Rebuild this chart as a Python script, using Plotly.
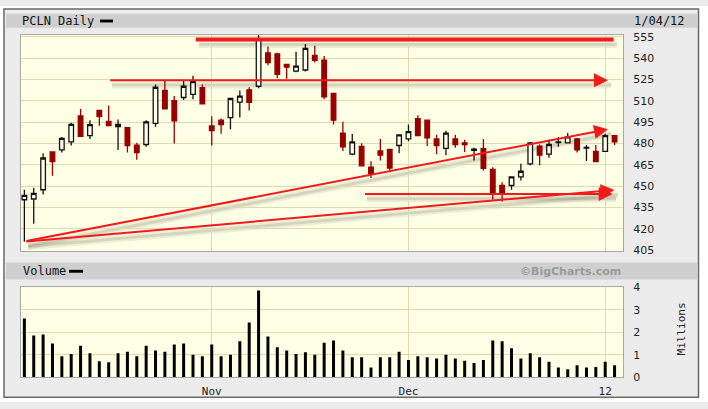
import numpy as np
import pandas as pd
import plotly.graph_objects as go

# ---------------- data ----------------
dates = pd.bdate_range("2011-10-04", "2012-01-04", freq="C",
                       holidays=["2011-11-24", "2011-12-26", "2012-01-02"]).strftime("%Y-%m-%d").tolist()

open_ = [440.5, 441.0, 447.5, 474.1, 475.5, 481.1, 499.3, 485.5, 503.2, 495.6,
         491.8, 491.1, 478.9, 479.3, 494.1, 517.3, 510.0, 512.3, 514.5, 519.2,
         492.3, 496.4, 498.2, 509.1, 517.7, 520.2, 543.6, 543.0, 535.5, 530.8,
         531.6, 541.8, 538.6, 515.2, 487.3, 472.5, 477.9, 463.3, 474.8, 475.9,
         478.6, 483.2, 497.5, 496.4, 483.2, 476.6, 483.2, 480.5, 475.2, 476.4,
         461.8, 450.5, 450.5, 456.6, 465.7, 478.2, 472.5, 480.6, 480.5, 483.2,
         476.8, 474.5, 474.5, 485.5]
high = [447.5, 449.0, 473.2, 474.5, 484.5, 494.5, 504.3, 496.4, 503.5, 506.7,
        496.8, 491.5, 480.5, 496.4, 521.4, 524.1, 513.4, 524.8, 527.5, 521.5,
        499.1, 497.5, 511.8, 517.3, 519.5, 557.0, 548.2, 543.8, 535.7, 544.5,
        549.8, 548.6, 541.4, 515.7, 495.2, 486.6, 480.1, 467.5, 483.2, 476.0,
        486.5, 493.4, 499.8, 496.6, 486.1, 488.9, 486.1, 482.7, 477.0, 483.2,
        463.4, 452.7, 456.8, 465.7, 481.0, 479.3, 482.7, 484.5, 487.3, 483.9,
        478.9, 478.9, 486.8, 485.6]
low = [411.0, 423.7, 444.1, 457.3, 473.6, 478.6, 484.5, 483.2, 492.5, 492.2,
       475.5, 473.6, 468.6, 477.7, 491.8, 504.0, 480.0, 510.5, 511.1, 507.5,
       478.6, 486.8, 490.0, 498.2, 503.2, 518.8, 535.0, 526.0, 525.5, 530.0,
       530.5, 536.8, 511.1, 493.4, 474.8, 471.8, 463.8, 455.7, 468.0, 460.5,
       473.2, 481.6, 485.0, 478.2, 472.5, 471.8, 477.0, 474.0, 468.0, 461.0,
       440.7, 439.3, 447.5, 454.0, 464.5, 464.5, 470.0, 477.7, 480.0, 473.6,
       467.7, 467.0, 474.0, 479.0]
close = [443.5, 445.0, 469.8, 467.3, 483.6, 493.4, 485.0, 493.2, 499.1, 492.5,
         493.4, 478.6, 473.6, 495.2, 519.5, 504.3, 495.9, 520.2, 523.4, 507.9,
         489.1, 493.2, 511.6, 513.2, 508.9, 553.5, 536.8, 528.6, 533.6, 534.4,
         546.8, 538.4, 512.7, 496.4, 477.7, 481.1, 464.3, 459.0, 471.8, 462.7,
         486.1, 488.4, 485.5, 483.9, 478.6, 487.3, 479.3, 479.3, 476.0, 462.5,
         445.2, 444.5, 456.6, 460.5, 480.5, 471.8, 479.3, 481.1, 484.7, 475.5,
         477.3, 467.3, 485.5, 481.1]
volume_millions = [2.61, 1.86, 1.90, 1.50, 0.93, 1.03, 1.40, 1.07, 0.71, 0.67,
                   1.07, 1.14, 0.93, 1.40, 1.19, 1.14, 1.46, 1.50, 1.00, 0.93,
                   1.46, 0.93, 1.00, 1.60, 2.43, 3.86, 1.81, 1.33, 1.19, 1.03,
                   1.11, 1.00, 1.54, 1.64, 1.19, 0.89, 0.89, 0.43, 0.89, 0.89,
                   1.14, 0.77, 0.93, 0.89, 0.83, 1.00, 0.83, 0.74, 0.64, 0.77,
                   1.64, 1.60, 1.29, 0.83, 1.07, 0.89, 0.69, 0.43, 0.36, 0.53,
                   0.43, 0.46, 0.69, 0.53]

price_ticks = [405, 420, 435, 450, 465, 480, 495, 510, 525, 540, 555]
volume_ticks = [0, 1, 2, 3, 4]
month_dates = ["2011-11-01", "2011-12-01", "2012-01-03"]
month_labels = ["Nov", "Dec", "12"]

# hand-drawn trend lines: (start index, start price, end index, end price)
top_line = (18.3, 553.0, 62.9, 553.0)
arrow_lines = [
    (9.0, 524.4, 62.3, 524.4),
    (0.05, 411.3, 62.3, 490.0),
    (0.05, 411.0, 63.0, 447.4),
    (36.2, 444.6, 62.8, 444.6),
]

# ---------------- figure ----------------
x = list(range(len(dates)))
tick_idx = [dates.index(d) for d in month_dates]

W, H = 708, 409
RED = "#f21a1a"
DARKRED = "#990000"
GRID = "#dcdcb0"
MONO = "DejaVu Sans Mono"
SANS = "DejaVu Sans"

fig = go.Figure()
fig.add_trace(go.Candlestick(
    x=x, open=open_, high=high, low=low, close=close,
    increasing=dict(line=dict(color="#111111", width=1.3), fillcolor="#ffffee"),
    decreasing=dict(line=dict(color=DARKRED, width=1.3), fillcolor=DARKRED),
    whiskerwidth=0, xaxis="x", yaxis="y", hoverinfo="skip"))
fig.add_trace(go.Bar(x=x, y=volume_millions, width=0.32, marker=dict(color="#000000", line=dict(width=0)),
                     xaxis="x2", yaxis="y2", hoverinfo="skip"))

XR = [-0.36, 63.9]
fig.update_layout(
    width=W, height=H, autosize=False, margin=dict(l=0, r=0, t=0, b=0),
    paper_bgcolor="#ececec", plot_bgcolor="#ffffe6", showlegend=False,
    xaxis=dict(domain=[21 / W, 623 / W], range=XR, tickvals=tick_idx, showticklabels=False,
               showgrid=True, gridcolor=GRID, gridwidth=1, zeroline=False, showline=True,
               linecolor="#a8a8a8", mirror=True, anchor="y", rangeslider=dict(visible=False), fixedrange=True),
    yaxis=dict(domain=[1 - 253 / H, 1 - 30 / H], range=[404.52, 556.16], side="right",
               tickvals=price_ticks, showgrid=True, gridcolor=GRID, zeroline=False, showline=True,
               linecolor="#a8a8a8", mirror=True, ticks="outside", ticklen=7, tickcolor="rgba(0,0,0,0)",
               tickfont=dict(family=SANS, size=11, color="#222222"), anchor="x"),
    xaxis2=dict(domain=[21 / W, 623 / W], range=XR, tickvals=tick_idx, ticktext=month_labels,
                showgrid=True, gridcolor=GRID, zeroline=False, showline=True, linecolor="#a8a8a8",
                mirror=True, ticks="outside", ticklen=3, tickcolor="rgba(0,0,0,0)",
                tickfont=dict(family=MONO, size=11, color="#222222"), anchor="y2"),
    yaxis2=dict(domain=[1 - 383.5 / H, 1 - 290 / H], range=[0, 4.02], side="right",
                tickvals=volume_ticks, showgrid=True, gridcolor=GRID, zeroline=False, showline=True,
                linecolor="#a8a8a8", mirror=True, ticks="outside", ticklen=7, tickcolor="rgba(0,0,0,0)",
                tickfont=dict(family=SANS, size=11, color="#222222"), anchor="x2"),
)

shapes = []
def prect(x0, y0, x1, y1, fill, line=None, lw=0, layer="below"):
    shapes.append(dict(type="rect", xref="paper", yref="paper", x0=x0 / W, x1=x1 / W,
                       y0=1 - y1 / H, y1=1 - y0 / H, fillcolor=fill,
                       line=dict(color=line or fill, width=lw), layer=layer))

# white outside frame
prect(0, 0, W, 2.5, "#ffffff")
prect(0, 404.5, W, H, "#ffffff")
prect(0, 0, 3.5, H, "#ffffff")
prect(699, 0, W, H, "#ffffff")
# frame border
shapes.append(dict(type="rect", xref="paper", yref="paper", x0=4 / W, x1=698.5 / W,
                   y0=1 - 404 / H, y1=1 - 3 / H, line=dict(color="#6a6a6a", width=1.5), layer="below"))
# header bands
prect(6, 8, 697, 22.5, "#cfcfcf")
prect(6, 265, 697, 282.5, "#cfcfcf")
# legend bars
prect(100, 14, 113, 17, "#000000", layer="above")
prect(69, 272.5, 83, 275.5, "#000000", layer="above")

# trend line shadows (offset a few pixels down-right)
dx, dy = 0.35, 3.4
all_lines = [top_line] + arrow_lines
for (a0, p0, a1, p1) in all_lines:
    for wdt, col in [(7, "rgba(90,90,70,0.10)"), (3, "rgba(90,90,70,0.16)")]:
        shapes.append(dict(type="line", xref="x", yref="y", x0=a0 + dx, y0=p0 - dy, x1=a1 + dx, y1=p1 - dy,
                           line=dict(color=col, width=wdt), layer="below"))
# top thick line
a0, p0, a1, p1 = top_line
shapes.append(dict(type="line", xref="x", yref="y", x0=a0, y0=p0, x1=a1, y1=p1,
                   line=dict(color=RED, width=4), layer="above"))
fig.update_layout(shapes=shapes)

annotations = []
for (a0, p0, a1, p1) in arrow_lines:
    annotations.append(dict(x=a1, y=p1, ax=a0, ay=p0, xref="x", yref="y", axref="x", ayref="y",
                            text="", showarrow=True, arrowhead=2, arrowsize=1.4, arrowwidth=2,
                            arrowcolor=RED))

def ptext(txt, x0, y0, font, xanchor="left", angle=0):
    annotations.append(dict(text=txt, x=x0 / W, y=1 - y0 / H, xref="paper", yref="paper",
                            showarrow=False, xanchor=xanchor, yanchor="middle", font=font,
                            textangle=angle))

ptext("PCLN Daily", 20, 15.5, dict(family=MONO, size=12, color="#111111"))
ptext("1/04/12", 632, 15.5, dict(family=MONO, size=12, color="#111111"))
ptext("Volume", 21, 274, dict(family=MONO, size=12, color="#111111"))
ptext("<b>©BigCharts.com</b>", 623, 274, dict(family=SANS, size=11, color="#9a9a9a"), xanchor="right")
ptext("Millions", 681, 334, dict(family=MONO, size=11, color="#222222"), xanchor="center", angle=-90)
fig.update_layout(annotations=annotations)

page_fix = ("var s=document.documentElement.style;s.margin='0';s.padding='0';s.overflow='hidden';"
            "var b=document.body.style;b.margin='0';b.padding='0';b.overflow='hidden';"
            "b.width='708px';b.height='409px';")
fig.write_html("out.html", config=dict(displayModeBar=False, responsive=False), post_script=page_fix)
